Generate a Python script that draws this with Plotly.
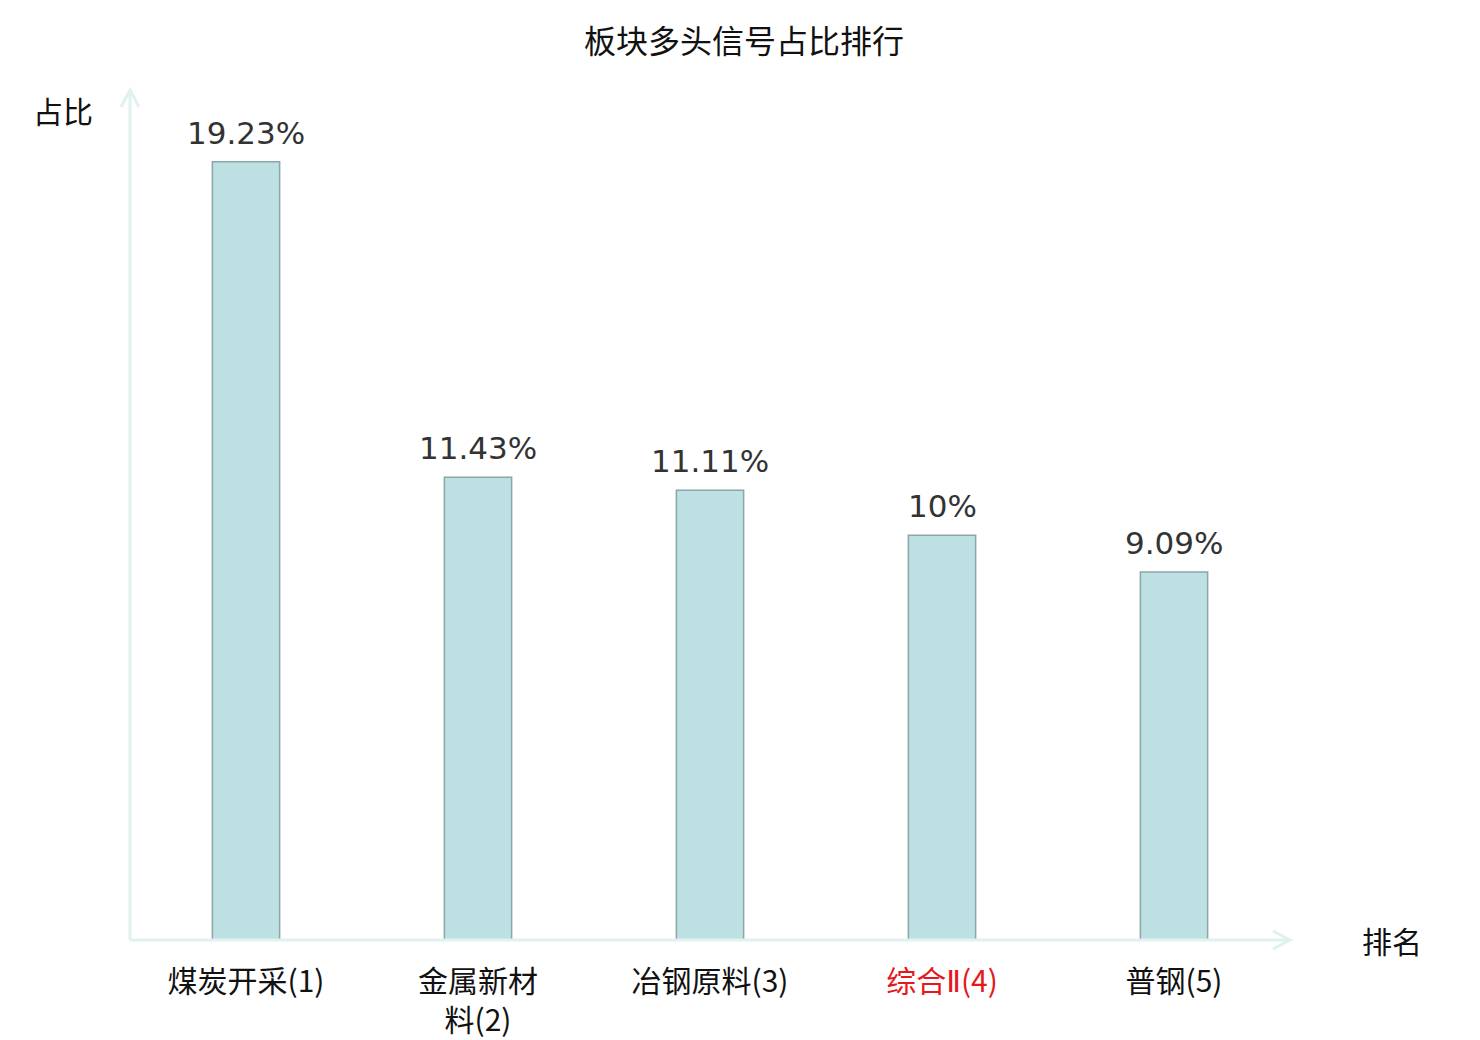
import plotly.graph_objects as go

# sector names with rank, and share of long signals (%)
sectors = ['煤炭开采(1)', '金属新材<br>料(2)', '冶钢原料(3)',
           "综合<span style='font-family:DejaVu Sans'>Ⅱ</span>(4)", '普钢(5)']
shares = [19.23, 11.43, 11.11, 10, 9.09]
share_labels = ['19.23%', '11.43%', '11.11%', '10%', '9.09%']
highlight = 3  # red tick label

ticktext = []
for i, s in enumerate(sectors):
    if i == highlight:
        ticktext.append("<span style='color:#e5191d'>" + s + "</span>")
    else:
        ticktext.append(s)

axis_col = '#dff2f0'
cjk = 'Noto Sans CJK SC'

fig = go.Figure()
fig.add_trace(go.Bar(
    x=list(range(len(sectors))), y=shares,
    marker=dict(color='#bde0e2', line=dict(color='#8aa6a6', width=1.5)),
    width=0.29,
    hoverinfo='skip',
))

# value labels above bars
for i, (v, t) in enumerate(zip(shares, share_labels)):
    fig.add_annotation(x=i, y=v, text=t, showarrow=False, yshift=29,
                       font=dict(family='DejaVu Sans', size=31, color='#333333'))

# axis lines with open arrowheads
fig.add_shape(type='line', xref='paper', yref='paper', x0=0, x1=0, y0=0, y1=1,
              line=dict(color=axis_col, width=3))
fig.add_shape(type='line', xref='paper', yref='paper', x0=0, x1=1, y0=0, y1=0,
              line=dict(color=axis_col, width=3))
fig.add_shape(type='path', xref='paper', yref='paper', xsizemode='pixel', ysizemode='pixel',
              xanchor=0, yanchor=1, path='M -9,-17 L 0,0 L 9,-17',
              line=dict(color=axis_col, width=3))
fig.add_shape(type='path', xref='paper', yref='paper', xsizemode='pixel', ysizemode='pixel',
              xanchor=1, yanchor=0, path='M -17,9 L 0,0 L -17,-9',
              line=dict(color=axis_col, width=3))

fig.add_annotation(xref='paper', yref='paper', x=-0.058, y=1.0, xanchor='center', yanchor='middle',
                   yshift=-20, text='占比', showarrow=False,
                   font=dict(family=cjk, size=30, color='#111111'))
fig.add_annotation(xref='paper', yref='paper', x=1.0, y=0, xanchor='center', yanchor='middle',
                   xshift=102, text='排名', showarrow=False,
                   font=dict(family=cjk, size=30, color='#111111'))

# page body adds 8px, so the figure is 8px smaller and margins shifted
fig.update_layout(
    width=1472, height=1032,
    margin=dict(l=122, r=190, t=82, b=100),
    paper_bgcolor='white', plot_bgcolor='white',
    title=dict(text='板块多头信号占比排行', x=0.5, xanchor='center', y=0.967, yanchor='middle',
               font=dict(family=cjk, size=32, color='#111111')),
    showlegend=False,
    xaxis=dict(range=[-0.5, 4.5], tickmode='array', tickvals=list(range(len(sectors))),
               ticktext=ticktext, showgrid=False, zeroline=False, showline=False,
               ticks='outside', ticklen=15, tickcolor='rgba(0,0,0,0)', automargin=False,
               tickfont=dict(family=cjk, size=30, color='#111111')),
    yaxis=dict(range=[0, 21], showgrid=False, zeroline=False, showline=False,
               showticklabels=False, ticks='', automargin=False),
)

fig.write_html('out.html')
